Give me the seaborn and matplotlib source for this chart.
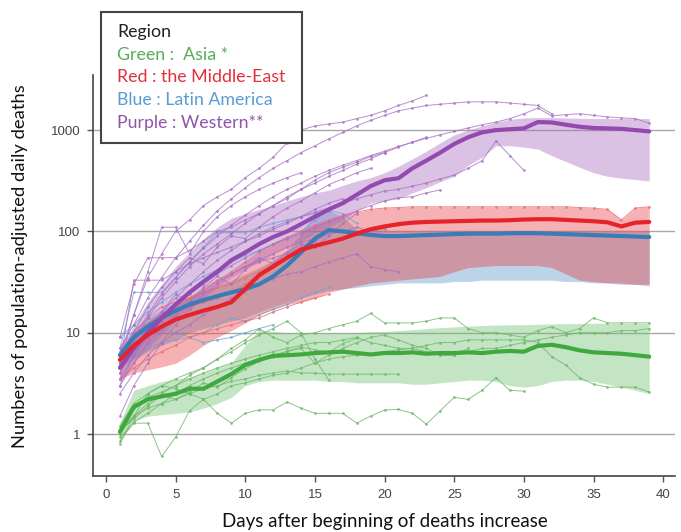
import numpy as np
import pandas as pd
import matplotlib
matplotlib.use("Agg")
import matplotlib.pyplot as plt
from matplotlib.patches import Rectangle
import seaborn as sns

# ---- data ----
days = list(range(1, 40))

asia_median = [1.05, 1.85, 2.2, 2.35, 2.5, 2.8, 2.8, 3.3, 3.9, 4.8, 5.4, 5.9, 6.0, 6.1, 6.3, 6.4, 6.5, 6.3, 6.1, 6.3,
               6.3, 6.4, 6.2, 6.3, 6.3, 6.4, 6.3, 6.5, 6.6, 6.5, 7.4, 7.6, 7.2, 6.7, 6.4, 6.3, 6.2, 6.0, 5.8]
asia_low = [0.85, 1.35, 1.5, 1.55, 1.6, 1.65, 1.8, 2.0, 2.3, 3.0, 3.3, 3.4, 3.4, 3.4, 3.4, 3.3, 3.3, 3.2, 3.2, 3.2,
            3.2, 3.1, 3.1, 3.2, 3.3, 3.4, 3.4, 3.3, 3.0, 2.9, 3.0, 3.3, 3.4, 3.4, 3.3, 3.1, 2.9, 2.7, 2.5]
asia_high = [1.3, 2.7, 3.0, 3.3, 3.5, 3.65, 4.0, 4.5, 5.0, 7.5, 10.6, 10.3, 10.0, 9.9, 9.9, 9.9, 9.9, 10.0, 10.2, 10.3,
             10.5, 10.7, 11.0, 11.2, 11.4, 11.6, 11.8, 11.9, 12.0, 12.0, 12.1, 12.2, 12.3, 12.3, 12.4, 12.4, 12.4, 12.4, 12.4]

mideast_median = [5.4, 7.5, 9.5, 11.5, 13.5, 15, 16.5, 18, 20, 27, 37, 45, 55, 66, 72, 78, 85, 95, 105, 112,
                  118, 122, 124, 125, 126, 127, 128, 128, 129, 131, 132, 132, 130, 128, 126, 123, 112, 122, 124]
mideast_low = [3.5, 4.0, 4.3, 4.6, 5.0, 6.0, 7.5, 9.0, 10.5, 12.5, 15, 17, 19, 20, 22, 25, 27, 29, 31, 32,
               33, 34, 35, 36, 40, 44, 45, 46, 46, 46, 46, 44, 38, 33, 32, 31, 31, 30, 30]
mideast_high = [7, 10, 13, 16, 19, 22, 27, 33, 40, 50, 62, 75, 88, 100, 115, 130, 145, 155, 165, 170,
                172, 175, 175, 175, 175, 175, 175, 175, 175, 175, 175, 175, 175, 172, 170, 165, 130, 170, 175]

latin_median = [6, 9, 11.5, 14, 16.5, 19, 21, 23, 25, 27, 30, 36, 46, 62, 85, 103, 100, 96, 92, 90,
                90, 91, 92, 93, 94, 95, 95, 95, 96, 96, 96, 95, 94, 93, 92, 91, 90, 89, 88]
latin_low = [4.5, 5.5, 6.5, 7.5, 8.5, 10, 11, 12, 13, 14, 16, 18, 20, 22, 24, 26, 27, 28, 29, 30,
             31, 31, 31, 31, 32, 32, 33, 33, 33, 33, 33, 33, 32, 32, 31, 31, 30, 30, 29]
latin_high = [7.5, 11, 14, 17, 20, 23, 26, 29, 33, 38, 44, 52, 65, 95, 150, 160, 140, 105, 100, 100,
              100, 100, 100, 100, 100, 100, 100, 100, 100, 100, 100, 100, 100, 100, 100, 100, 100, 100, 100]

west_median = [4.5, 7, 10, 14, 19, 25, 32, 40, 52, 62, 75, 88, 100, 118, 140, 165, 190, 230, 280, 320,
               335, 420, 500, 600, 730, 850, 950, 1000, 1020, 1040, 1200, 1190, 1130, 1080, 1050, 1040, 1030, 1000, 970]
west_low = [3.2, 5, 7, 9.5, 13, 17, 22, 28, 35, 42, 50, 60, 70, 80, 95, 110, 130, 160, 190, 200,
            210, 240, 270, 310, 350, 450, 540, 700, 700, 680, 650, 560, 490, 430, 380, 350, 335, 325, 315]
west_high = [6, 12, 20, 30, 45, 62, 85, 110, 135, 150, 165, 180, 200, 220, 240, 255, 285, 315, 340, 380,
             440, 520, 620, 750, 900, 1000, 1100, 1200, 1280, 1320, 1330, 1330, 1320, 1310, 1300, 1300, 1300, 1300, 1300]

# individual countries (day 1 onwards)
asia_countries = {
    "a1": [1.1, 1.5, 2.0, 2.5, 3.0, 3.8, 4.5, 5.5, 7.0, 8.5, 11.0, 9.0, 8.0, 9.5, 10.0, 11.0, 12.0, 13.0, 15.5, 12.5,
           12.5, 12.5, 13.0, 14.0, 14.0, 11.0, 10.0, 10.0, 9.5, 9.0, 10.5, 11.5, 10.0, 11.0, 14.0, 12.5, 12.5, 12.5, 12.5],
    "a2": [1.0, 1.8, 2.3, 2.6, 3.0, 3.5, 4.0, 4.5, 5.0, 5.5, 6.0, 6.5, 7.0, 7.5, 8.0, 8.0, 8.5, 9.0, 8.0, 7.5,
           7.0, 7.0, 7.5, 8.0, 8.0, 8.5, 8.5, 8.5, 8.5, 8.5, 8.0, 5.8, 4.8, 3.6, 3.1, 2.9, 2.9, 2.9, 2.6],
    "a3": [0.93, 1.28, 1.28, 0.6, 0.93, 1.7, 2.2, 1.6, 1.28, 1.6, 1.73, 1.73, 2.07, 1.8, 1.6, 1.6, 1.6, 1.28, 1.5, 1.73,
           1.75, 1.6, 1.25, 1.7, 2.3, 2.2, 2.7, 3.6, 2.7, 2.65],
    "a4": [1.0, 1.5, 1.8, 2.0, 2.2, 2.5, 2.8, 3.0, 3.3, 3.5, 3.8, 4.0, 4.2, 4.0, 4.0, 3.9, 3.9, 3.9, 3.9, 3.9, 3.9],
    "a5": [0.85, 1.3, 1.6, 2.0, 2.5, 3.0, 3.5, 4.0, 4.5, 5.0, 5.5, 6.0, 6.5, 7.0, 5.0, 6.0, 7.0, 8.0, 9.0, 9.5,
           8.5, 7.5, 7.0, 6.0, 6.0, 7.0],
    "a6": [1.2, 2.0, 2.5, 3.0, 3.5, 4.0, 4.5, 5.5, 6.5, 8.0, 9.5, 11.0, 13.0, 10.0, 5.5, 3.4],
    "a7": [0.8, 1.5, 2.5, 3.0, 2.8, 2.5, 2.2, 2.5, 3.0, 3.2, 3.5, 3.8, 4.0, 4.5, 5.0, 5.5, 5.8, 6.0, 6.2, 6.5,
           6.8, 7.0, 6.5, 6.0, 6.0, 6.5, 7.0, 7.0, 7.5, 8.0, 8.5, 9.0, 9.5, 10.0, 10.0, 10.0, 10.5, 10.5, 11.0],
    "a8": [1.1, 1.4, 1.9, 2.4, 2.2, 2.6, 3.2, 2.9, 3.6, 4.4, 5.2, 5.8, 6.6, 7.2, 6.8, 6.4, 7.8, 8.8],
}
mideast_countries = {
    "m1": [6.5, 9, 12, 15, 18, 22, 27, 33, 40, 50, 62, 75, 88, 100, 115, 130, 145, 155, 165, 170,
           172, 175, 175, 175, 175, 175, 175, 175, 175, 175, 175, 175, 175, 172, 170, 165, 130, 170, 175],
    "m2": [3.5, 4.5, 5.5, 6.5, 7.5, 9, 10, 11, 12, 13, 14, 16, 18, 20, 22, 24],
    "m3": [5, 7, 9, 12, 15, 18, 20, 22, 25, 30, 38, 45, 55, 62, 70, 78, 85, 92, 100, 110, 115],
    "m4": [6, 10, 14, 18, 20, 22, 25, 28, 30, 35, 40, 48, 55, 65, 80],
}
latin_countries = {
    "l1": [7, 25, 25, 25, 35, 50, 70, 97, 97, 97, 110, 120, 130, 140, 150, 160],
    "l2": [5, 8, 10, 11, 10, 9, 10, 12, 14, 13, 15, 17, 19, 22, 25, 28],
    "l3": [9, 12, 16, 20, 25, 30, 36, 42, 50, 58, 65, 75, 85, 100, 130, 160, 150, 120],
    "l4": [4.5, 6, 7, 8, 8.5, 9, 8, 8.5, 9, 10, 11, 12],
}
west_countries = {
    "w1": [6, 15, 35, 60, 100, 130, 180, 220, 260, 340, 420, 540, 750, 1000, 1100, 1150, 1200, 1300, 1400, 1550,
           1750, 1950, 2200],
    "w2": [7, 12, 22, 35, 55, 80, 115, 160, 210, 270, 340, 420, 500, 600, 700, 820, 950, 1100, 1250, 1400,
           1550, 1650, 1750, 1800, 1850, 1900, 1900, 1900, 1850, 1800, 1750, 1450],
    "w3": [5, 9, 15, 24, 35, 50, 68, 90, 115, 145, 180, 220, 260, 300, 350, 400, 450, 500, 560, 620,
           690, 760, 830, 900, 970, 1050, 1130, 1200, 1300, 1450, 1650, 1380, 1420, 1450, 1400, 1350, 1320, 1300, 1170],
    "w4": [4, 7, 11, 16, 22, 30, 40, 52, 65, 80, 95, 110, 125, 140, 155, 170, 190, 210, 230, 250,
           260, 280, 300, 330, 360, 420, 500, 780, 560, 400],
    "w5": [3.5, 6, 9, 13, 18, 24, 30, 38, 46, 55, 64, 75, 85, 95, 110, 125, 140, 160, 180, 200, 215, 220, 240, 257],
    "w6": [9, 30, 55, 55, 55, 65, 80, 100, 110, 130, 150, 180, 210, 260, 320, 380, 430, 480, 550, 600],
    "w7": [5, 33, 33, 33, 40, 48, 55, 62, 70, 80, 90, 105, 120, 140, 165, 190, 210],
    "w8": [3, 5, 8, 11, 15, 20, 26, 32, 38, 45, 50, 55, 60, 70, 80, 95, 100, 110, 100, 105],
    "w9": [2.5, 4, 6, 8, 10, 12, 15, 18, 22, 26, 30, 34, 38, 40, 45, 50, 55, 60, 45, 42, 40],
    "w10": [5, 15, 40, 110, 110, 60, 100, 140, 180, 220, 260, 300, 340, 380],
    "w11": [1.5, 3, 5, 8, 12, 17, 24, 30, 38, 45, 52, 60, 70, 78, 85],
    "w12": [4, 8, 14, 22, 32, 45, 60, 75, 95, 120, 150, 180, 220, 260, 300, 350, 400, 460, 520, 600, 680, 760, 850],
    "w13": [3, 6, 10, 16, 24, 20, 28, 36, 30, 42, 55, 48, 62, 75, 70, 90, 120, 150],
    "w14": [6, 10, 18, 28, 40, 55, 48, 70, 90, 85, 110, 140, 170, 200, 240, 290, 330, 380, 420],
}


def to_long(countries):
    frames = []
    for name, vals in countries.items():
        frames.append(pd.DataFrame({"country": name, "day": range(1, len(vals) + 1), "value": vals}))
    return pd.concat(frames, ignore_index=True)


regions = [
    # name, countries, median, low, high, band colour, thin colour, thick colour
    ("Asia", asia_countries, asia_median, asia_low, asia_high, "#6cc06a", "#6db86b", "#3fa83f"),
    ("Latin America", latin_countries, latin_median, latin_low, latin_high, "#5b93c9", "#6fa3d3", "#3a7cb8"),
    ("Middle-East", mideast_countries, mideast_median, mideast_low, mideast_high, "#e63c41", "#ee6a70", "#e5232b"),
    ("Western", west_countries, west_median, west_low, west_high, "#a568c0", "#a872c4", "#9349ae"),
]

sns.set_theme(style="white")
plt.rcParams["font.family"] = ["Liberation Sans", "DejaVu Sans"]

fig = plt.figure(figsize=(6.81, 5.32), dpi=100)
ax = fig.add_axes([93 / 681, 1 - 476 / 532, (675 - 93) / 681, (476 - 75) / 532])

# shaded bands
for name, countries, med, low, high, band_c, thin_c, thick_c in regions:
    ax.fill_between(days, low, high, color=band_c, alpha=0.4, lw=0, zorder=1)

# thin country lines
for name, countries, med, low, high, band_c, thin_c, thick_c in regions:
    df = to_long(countries)
    sns.lineplot(data=df, x="day", y="value", units="country", estimator=None, ax=ax,
                 color=thin_c, lw=0.7, alpha=0.8, marker="o", markersize=2.0,
                 markeredgewidth=0, zorder=2)

# median lines
for idx in [0, 1, 3, 2]:
    name, countries, med, low, high, band_c, thin_c, thick_c = regions[idx]
    sns.lineplot(x=days, y=med, ax=ax, color=thick_c, lw=3.0, zorder=3)

ax.set_yscale("log")
ax.set_xlim(-0.93, 40.85)
ax.set_ylim(0.385, 3500)
ax.set_yticks([1, 10, 100, 1000])
ax.set_yticklabels(["1", "10", "100", "1000"])
ax.set_xticks(range(0, 41, 5))
ax.minorticks_off()
ax.yaxis.grid(True, color="#a8a8a8", lw=1.0)
ax.set_axisbelow(True)
ax.tick_params(axis="both", which="major", length=4, width=1, color="#555555",
               labelsize=9.5, labelcolor="#444444", direction="out", pad=5)
ax.tick_params(axis="x", bottom=True)
ax.tick_params(axis="y", left=True)
for side in ["top", "right"]:
    ax.spines[side].set_visible(False)
for side in ["left", "bottom"]:
    ax.spines[side].set_color("#444444")
    ax.spines[side].set_linewidth(1.2)

ax.set_xlabel("")
ax.set_ylabel("")
fig.text(385 / 681, 1 - 522 / 532, "Days after beginning of deaths increase",
         ha="center", va="center", fontsize=13.5, family="Lato", color="#111111")
fig.text(20 / 681, 1 - 266 / 532, "Numbers of population-adjusted daily deaths",
         ha="center", va="center", rotation=90, fontsize=13.2, family="Lato", color="#111111")

# legend box
box = Rectangle((101 / 681, 1 - 143 / 532), 201 / 681, 131 / 532, transform=fig.transFigure,
                facecolor="white", edgecolor="#444444", lw=1.5, zorder=5)
fig.add_artist(box)
legend_lines = [
    ("Region", "#222222", 32),
    ("Green :  Asia *", "#5aaa5a", 55),
    ("Red : the Middle-East", "#e2303a", 77),
    ("Blue : Latin America", "#5b9bd3", 100),
    ("Purple : Western**", "#8f55aa", 123),
]
for label, col, ypx in legend_lines:
    t = fig.text(117 / 681, 1 - ypx / 532, label, ha="left", va="center",
                 fontsize=12.8, family="Lato", color=col)
    t.set_zorder(6)

fig.savefig("out.png", dpi=100)
